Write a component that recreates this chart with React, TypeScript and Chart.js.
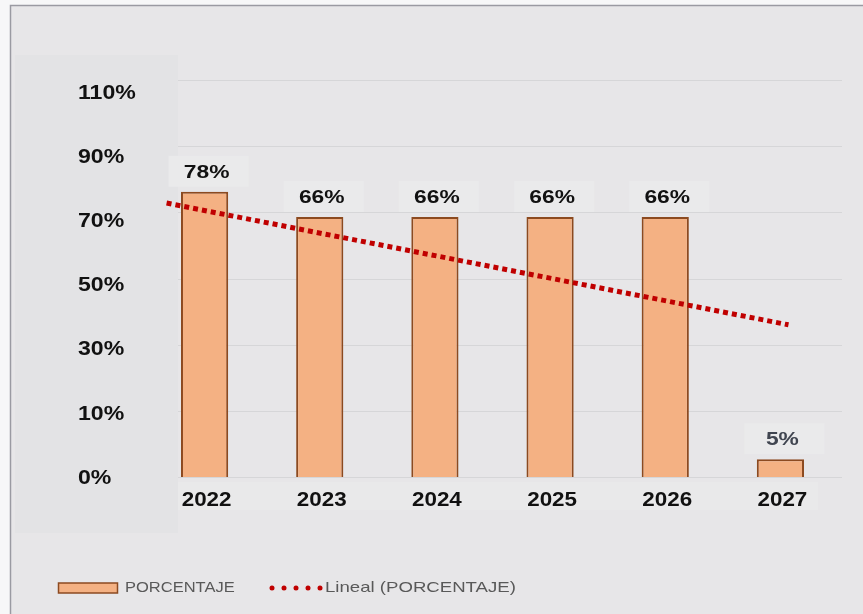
import React, { useEffect, useRef } from "react";
import { Chart, registerables } from "chart.js";

Chart.register(...registerables);

// ---- data ----
const categories = ["2022", "2023", "2024", "2025", "2026", "2027"];
// bar heights in axis units (one gridline step = 20 units)
const barHeights = [86.2, 78.6, 78.6, 78.6, 78.6, 5.4];
const barLabels = ["78%", "66%", "66%", "66%", "66%", "5%"];
const yTickValues = [0, 20, 40, 60, 80, 100, 120];
const yTickLabels = ["0%", "10%", "30%", "50%", "70%", "90%", "110%"];
// linear trend line end points (category index, axis units)
const trendX = [-0.33, 5.07];
const trendY = [82.8, 46.0];
const legendLabels = ["PORCENTAJE", "Lineal (PORCENTAJE)"];

const BAR_FILL = "#f4b183";
const BAR_BORDER = "#8c4a20";
const TREND = "#c00000";

function drawText(ctx: CanvasRenderingContext2D, text: string, x: number, y: number, font: string, color: string, sx: number, align: CanvasTextAlign) {
  ctx.save();
  ctx.translate(x, y);
  ctx.scale(sx, 1);
  ctx.font = font;
  ctx.fillStyle = color;
  ctx.textAlign = align;
  ctx.textBaseline = "middle";
  ctx.fillText(text, 0, 0);
  ctx.restore();
}

const decor = {
  id: "decor",
  beforeDraw(chart: any) {
    const { ctx, width, height, chartArea } = chart;
    const ys = chart.scales.y;
    ctx.save();
    ctx.fillStyle = "#f7f7f8";
    ctx.fillRect(0, 0, width, height);
    ctx.fillStyle = "#e7e6e8";
    ctx.fillRect(10, 5, width - 10, height - 5);
    // left panel
    ctx.fillStyle = "#e3e3e5";
    ctx.fillRect(15, 55, 163, 478);
    // x label strip
    ctx.fillStyle = "#e9e9ea";
    ctx.fillRect(178, chartArea.bottom + 5, 640, 28);
    // frame
    ctx.strokeStyle = "#9a9aa2";
    ctx.lineWidth = 1.5;
    ctx.beginPath();
    ctx.moveTo(10.5, height);
    ctx.lineTo(10.5, 5.5);
    ctx.lineTo(width, 5.5);
    ctx.stroke();
    // gridlines
    ctx.strokeStyle = "#d6d6d8";
    ctx.lineWidth = 1;
    yTickValues.forEach((v) => {
      const py = Math.round(ys.getPixelForValue(v)) + 0.5;
      ctx.beginPath();
      ctx.moveTo(chartArea.left + 31, py);
      ctx.lineTo(chartArea.right + 4, py);
      ctx.stroke();
    });
    // label boxes
    const meta = chart.getDatasetMeta(1);
    ctx.fillStyle = "#eaeaeb";
    meta.data.forEach((bar: any) => {
      ctx.fillRect(bar.x - 36, bar.y - 36, 80, 31);
    });
    ctx.restore();
  },
  afterDatasetsDraw(chart: any) {
    const { ctx, chartArea } = chart;
    const ys = chart.scales.y;
    const xs = chart.scales.x;
    // y labels
    yTickValues.forEach((v, i) => {
      const py = ys.getPixelForValue(v * 0.97) + 1;
      drawText(ctx, yTickLabels[i], 78, py, "bold 21px 'Liberation Sans', Arial, sans-serif", "#111111", 1.1, "left");
    });
    // x labels
    categories.forEach((c, i) => {
      const px = xs.getPixelForValue(i);
      drawText(ctx, c, px + 2, chartArea.bottom + 23, "bold 20px 'Liberation Sans', Arial, sans-serif", "#111111", 1.12, "center");
    });
    // data labels
    const meta = chart.getDatasetMeta(1);
    meta.data.forEach((bar: any, i: number) => {
      const color = i === meta.data.length - 1 ? "#404550" : "#111111";
      drawText(ctx, barLabels[i], bar.x + 2, bar.y - 19, "bold 19px 'Liberation Sans', Arial, sans-serif", color, 1.2, "center");
    });
  },
  afterDraw(chart: any) {
    const { ctx } = chart;
    const ly = 588;
    ctx.save();
    ctx.fillStyle = BAR_FILL;
    ctx.strokeStyle = BAR_BORDER;
    ctx.lineWidth = 1.5;
    ctx.fillRect(58.5, ly - 5, 59, 10);
    ctx.strokeRect(58.5, ly - 5, 59, 10);
    ctx.fillStyle = TREND;
    for (let k = 0; k < 5; k++) {
      ctx.beginPath();
      ctx.arc(272 + k * 12, ly, 2.5, 0, Math.PI * 2);
      ctx.fill();
    }
    ctx.restore();
    drawText(ctx, legendLabels[0], 125, ly, "15px 'Liberation Sans', Arial, sans-serif", "#595959", 1.1, "left");
    drawText(ctx, legendLabels[1], 325, ly, "15px 'Liberation Sans', Arial, sans-serif", "#595959", 1.24, "left");
  },
};

export default function App() {
  const ref = useRef<HTMLCanvasElement | null>(null);
  useEffect(() => {
    if (!ref.current) return;
    const chart = new Chart(ref.current, {
      type: "bar",
      data: {
        labels: categories,
        datasets: [
          {
            type: "line",
            label: legendLabels[1],
            xAxisID: "x2",
            data: trendX.map((x, i) => ({ x, y: trendY[i] })),
            borderColor: TREND,
            borderWidth: 5,
            borderDash: [5, 4],
            pointRadius: 0,
            fill: false,
            order: 0,
          } as any,
          {
            type: "bar",
            label: legendLabels[0],
            xAxisID: "x",
            data: barHeights,
            backgroundColor: BAR_FILL,
            borderColor: BAR_BORDER,
            borderWidth: 2,
            barPercentage: 0.41,
            categoryPercentage: 1,
            grouped: false,
            order: 1,
          },
        ],
      },
      options: {
        responsive: false,
        animation: false,
        events: [],
        layout: { padding: { left: 147, right: 25, top: 80, bottom: 137 } },
        plugins: { legend: { display: false }, tooltip: { enabled: false }, title: { display: false } },
        scales: {
          x: { type: "category", display: false, offset: true },
          x2: { type: "linear", display: false, min: -0.5, max: 5.5, offset: false, grid: { offset: false } },
          y: { type: "linear", display: false, min: 0, max: 120 },
        },
      },
      plugins: [decor],
    });
    return () => chart.destroy();
  }, []);
  return (
    <div style={{ position: "absolute", left: 0, top: 0, width: 863, height: 614 }}>
      <canvas ref={ref} width={863} height={614} style={{ display: "block", width: 863, height: 614 }} />
    </div>
  );
}
